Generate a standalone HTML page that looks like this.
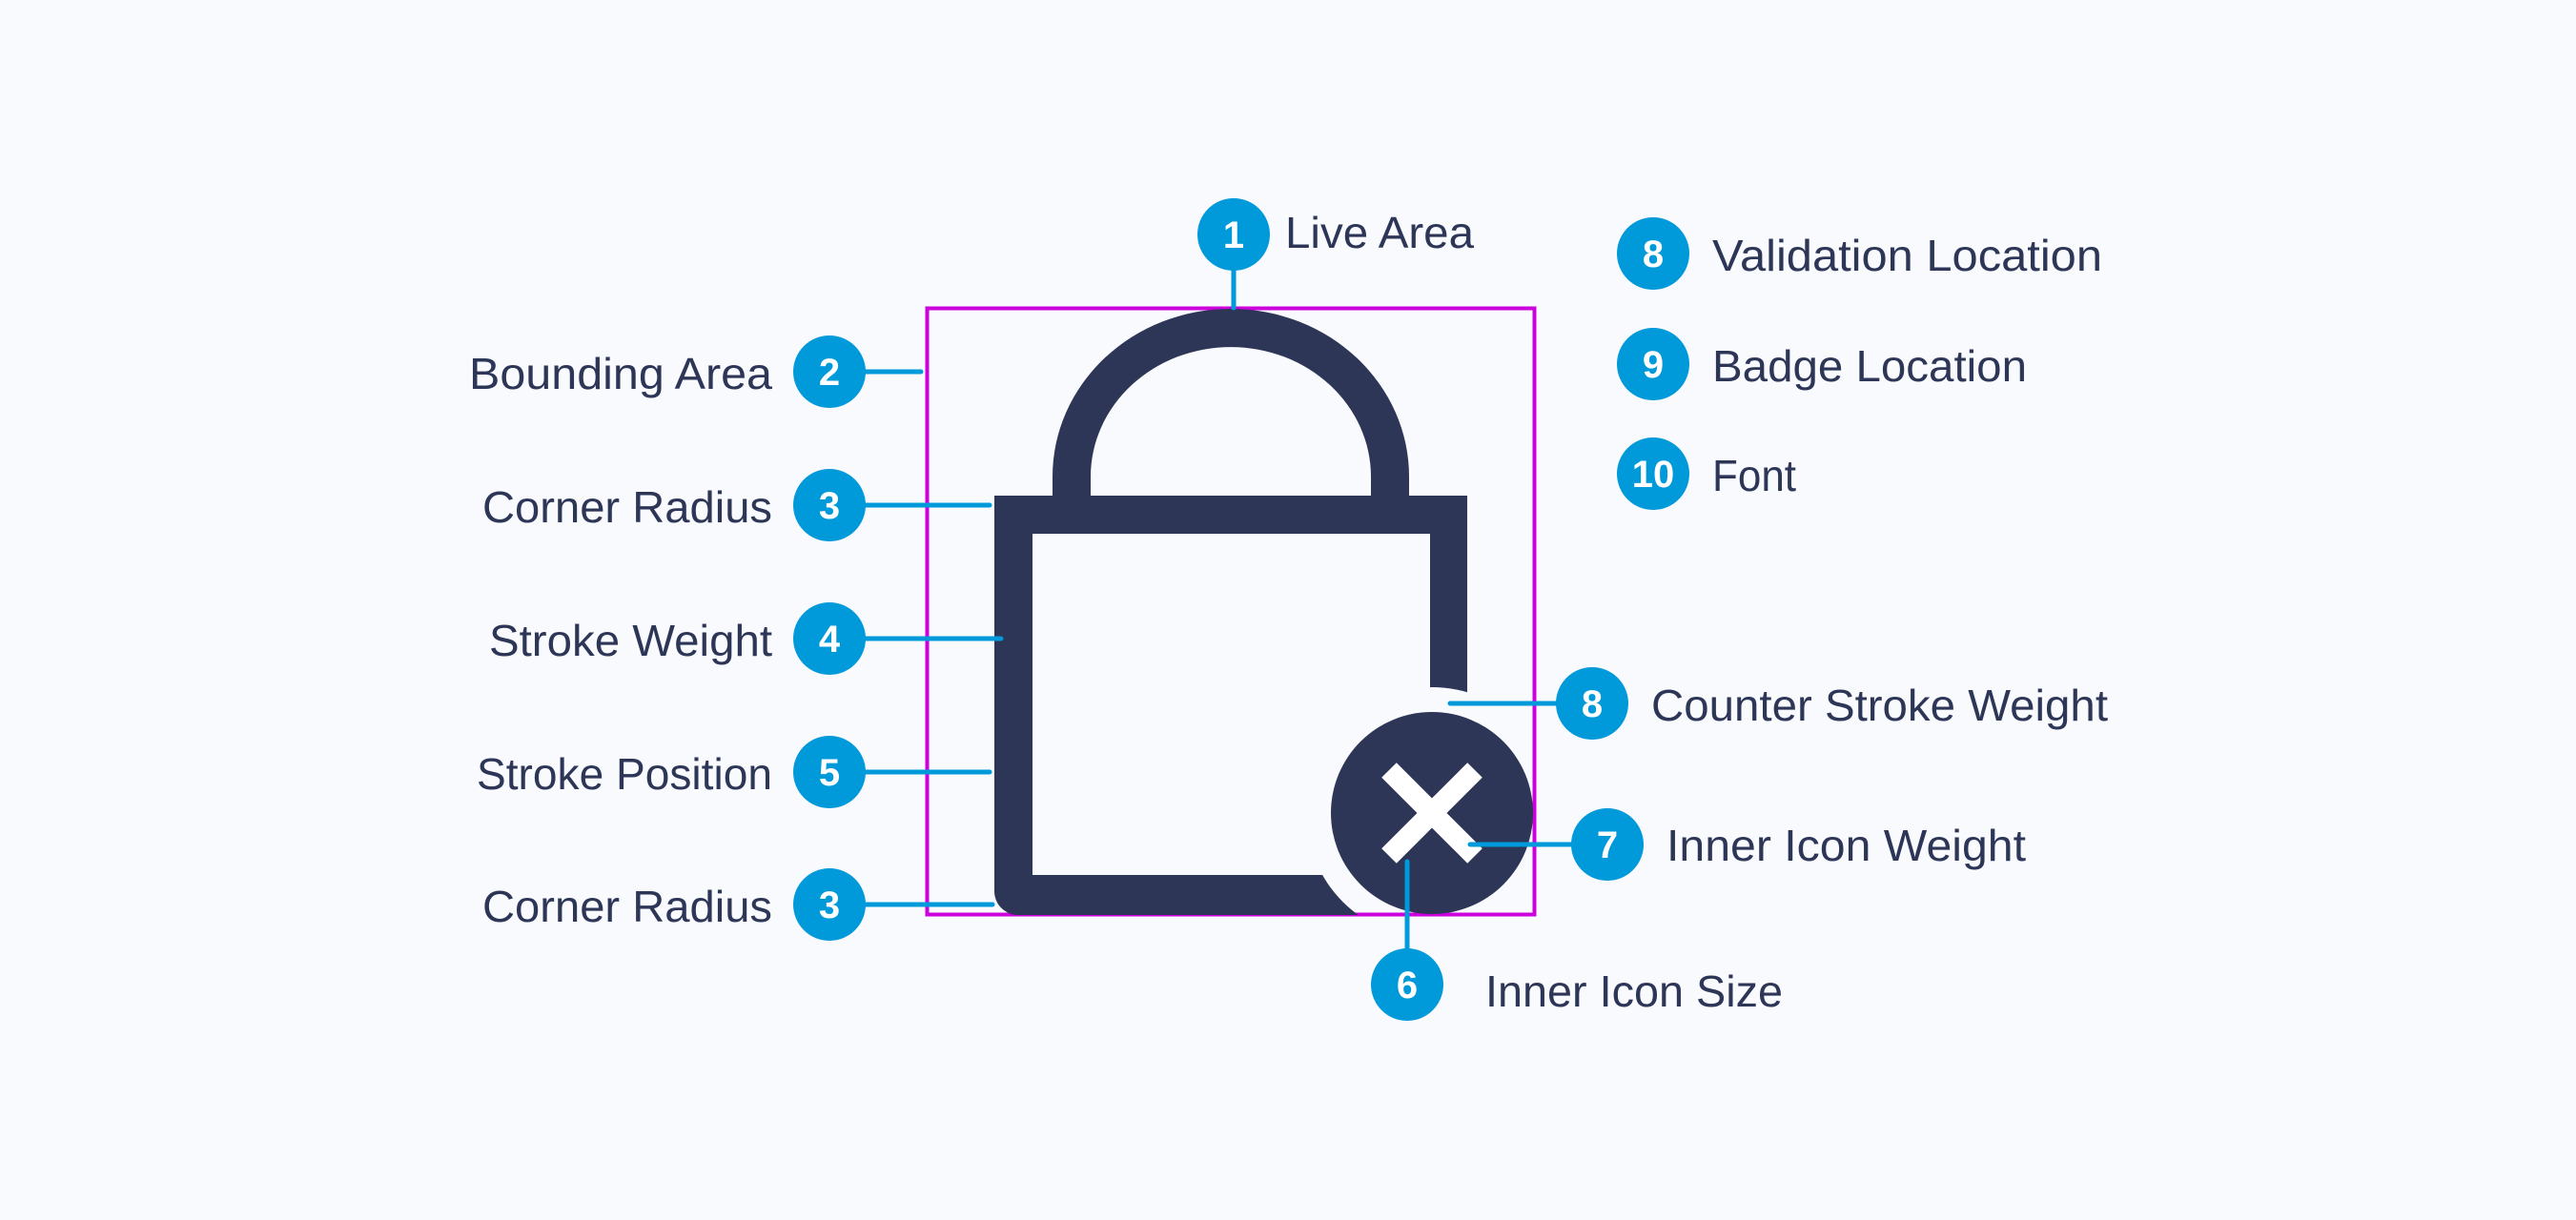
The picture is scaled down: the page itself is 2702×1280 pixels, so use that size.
<!DOCTYPE html>
<html><head><meta charset="utf-8"><style>
html,body{margin:0;padding:0;background:#F8FAFE;}
svg{display:block}
text{font-family:"Liberation Sans",sans-serif;}
.l{fill:#2D3657;font-size:46px;}
.n{fill:#fff;font-size:40px;font-weight:bold;text-anchor:middle;}
.c{stroke:#0099DA;stroke-width:5;stroke-linecap:round;fill:none}
</style></head><body>
<svg width="2702" height="1280" viewBox="0 0 2702 1280" xmlns="http://www.w3.org/2000/svg">
<rect width="2702" height="1280" fill="#F8FAFE"/>
<defs>
<mask id="m"><rect width="2702" height="1280" fill="#fff"/><circle cx="1502" cy="853" r="132" fill="#000"/></mask>
</defs>
<rect x="972.5" y="323.5" width="637" height="636" fill="none" stroke="#CC00DD" stroke-width="4"/>
<g mask="url(#m)" fill="#2D3657" fill-rule="evenodd">
<path d="M1043,520 H1539 V960 H1068 A25,25 0 0 1 1043,935 Z M1083,560 V918 H1500 V560 Z"/>
<path d="M1104,522 V500 A187,176 0 0 1 1478,500 V522 H1438 V500 A147,136 0 0 0 1144,500 V522 Z"/>
</g>
<circle cx="1502" cy="853" r="106" fill="#2D3657"/>
<g stroke="#fff" stroke-width="22">
<line x1="1457" y1="808" x2="1547" y2="898"/>
<line x1="1547" y1="808" x2="1457" y2="898"/>
</g>
<line class="c" x1="1294" y1="270" x2="1294" y2="323"/>
<line class="c" x1="900" y1="390" x2="966" y2="390"/>
<line class="c" x1="900" y1="530" x2="1038" y2="530"/>
<line class="c" x1="900" y1="670" x2="1050" y2="670"/>
<line class="c" x1="900" y1="810" x2="1038" y2="810"/>
<line class="c" x1="900" y1="949" x2="1041" y2="949"/>
<line class="c" x1="1521" y1="738" x2="1650" y2="738"/>
<line class="c" x1="1542" y1="886" x2="1660" y2="886"/>
<line class="c" x1="1476" y1="904" x2="1476" y2="1010"/>
<g fill="#0099DA">
<circle cx="1294" cy="246" r="38"/>
<circle cx="870" cy="390" r="38"/>
<circle cx="870" cy="530" r="38"/>
<circle cx="870" cy="670" r="38"/>
<circle cx="870" cy="810" r="38"/>
<circle cx="870" cy="949" r="38"/>
<circle cx="1734" cy="266" r="38"/>
<circle cx="1734" cy="382" r="38"/>
<circle cx="1734" cy="497" r="38"/>
<circle cx="1670" cy="738" r="38"/>
<circle cx="1686" cy="886" r="38"/>
<circle cx="1476" cy="1033" r="38"/>
</g>
<text class="n" x="1294" y="260">1</text>
<text class="n" x="870" y="404">2</text>
<text class="n" x="870" y="544">3</text>
<text class="n" x="870" y="684">4</text>
<text class="n" x="870" y="824">5</text>
<text class="n" x="870" y="963">3</text>
<text class="n" x="1734" y="280">8</text>
<text class="n" x="1734" y="396">9</text>
<text class="n" x="1734" y="511">10</text>
<text class="n" x="1670" y="752">8</text>
<text class="n" x="1686" y="900">7</text>
<text class="n" x="1476" y="1047">6</text>
<text class="l" x="1348" y="260" textLength="198" lengthAdjust="spacingAndGlyphs">Live Area</text>
<text class="l" x="492" y="408" textLength="318" lengthAdjust="spacingAndGlyphs">Bounding Area</text>
<text class="l" x="506" y="548" textLength="304" lengthAdjust="spacingAndGlyphs">Corner Radius</text>
<text class="l" x="513" y="688" textLength="297" lengthAdjust="spacingAndGlyphs">Stroke Weight</text>
<text class="l" x="500" y="828" textLength="310" lengthAdjust="spacingAndGlyphs">Stroke Position</text>
<text class="l" x="506" y="967" textLength="304" lengthAdjust="spacingAndGlyphs">Corner Radius</text>
<text class="l" x="1796" y="284" textLength="409" lengthAdjust="spacingAndGlyphs">Validation Location</text>
<text class="l" x="1796" y="400" textLength="330" lengthAdjust="spacingAndGlyphs">Badge Location</text>
<text class="l" x="1796" y="515" textLength="88" lengthAdjust="spacingAndGlyphs">Font</text>
<text class="l" x="1732" y="756" textLength="479" lengthAdjust="spacingAndGlyphs">Counter Stroke Weight</text>
<text class="l" x="1748" y="903" textLength="377" lengthAdjust="spacingAndGlyphs">Inner Icon Weight</text>
<text class="l" x="1558" y="1056" textLength="312" lengthAdjust="spacingAndGlyphs">Inner Icon Size</text>
</svg>
</body></html>
